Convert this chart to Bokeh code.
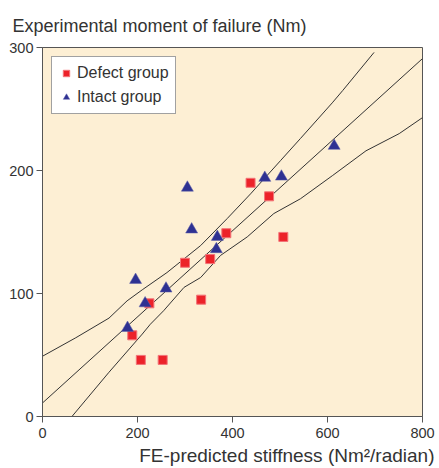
from bokeh.plotting import figure
from bokeh.models import Range1d, Legend, LegendItem, FixedTicker, Title
from bokeh.embed import file_html
from bokeh.resources import INLINE

# ---- data ----
defect_x = [189, 207, 253, 225, 300, 334, 353, 387, 438, 477, 507]
defect_y = [66, 46, 46, 92, 125, 95, 128, 149, 190, 179, 146]

intact_x = [179, 196, 216, 260, 305, 314, 366, 368, 468, 503, 614]
intact_y = [72, 111, 92, 104, 186, 152, 136, 146, 194, 195, 220]

fit_x = [0, 800]
fit_y = [11, 291]

upper_x = [0, 70, 140, 178, 210, 262, 333, 389, 438, 501, 543, 610, 632, 698]
upper_y = [49, 64, 80, 94, 103, 117, 139, 161, 181, 208, 226, 255, 265, 296]

lower_x = [62, 140, 210, 227, 255, 298, 333, 375, 431, 487, 543, 611, 681, 751, 800]
lower_y = [0, 36, 67, 75, 86, 105, 113, 131, 146, 165, 177, 196, 216, 230, 243]

x_ticks = [0, 200, 400, 600, 800]
y_ticks = [0, 100, 200, 300]

FONT = "Liberation Sans"
TXT = "#333333"

p = figure(width=439, height=468, output_backend="svg", toolbar_location=None,
           x_range=Range1d(0, 800), y_range=Range1d(0, 300),
           min_border_left=42, min_border_right=17, min_border_top=47, min_border_bottom=52)

p.background_fill_color = "#FDEFD4"
p.border_fill_color = "white"
p.outline_line_color = "#555555"
p.outline_line_width = 1
p.grid.visible = False

for ax in (p.xaxis, p.yaxis):
    ax.axis_line_color = "#555555"
    ax.major_tick_line_color = "#555555"
    ax.minor_tick_line_color = None
    ax.major_tick_in = 0
    ax.major_tick_out = 6
    ax.major_label_text_font = FONT
    ax.major_label_text_font_size = "14.5px"
    ax.major_label_text_color = TXT
p.xaxis.ticker = FixedTicker(ticks=x_ticks)
p.yaxis.ticker = FixedTicker(ticks=y_ticks)
p.xaxis.major_label_standoff = 5
p.yaxis.major_label_standoff = 3

line_color = "#333333"
p.line(upper_x, upper_y, line_color=line_color, line_width=1)
p.line(fit_x, fit_y, line_color=line_color, line_width=1)
p.line(lower_x, lower_y, line_color=line_color, line_width=1)

r_def = p.scatter(defect_x, defect_y, marker="square", size=9,
                  fill_color="#EC2229", line_color="#F37378", line_width=1)
r_int = p.scatter(intact_x, intact_y, marker="triangle", size=12,
                  fill_color="#2E3192", line_color="#5A5DAA", line_width=0.5)

legend = Legend(items=[LegendItem(label="Defect group", renderers=[r_def]),
                       LegendItem(label="Intact group", renderers=[r_int])],
                location="top_left")
legend.margin = 9
legend.padding = 6
legend.spacing = 4
legend.glyph_width = 16
legend.glyph_height = 20
legend.label_height = 20
legend.label_standoff = 3
legend.label_text_font = FONT
legend.label_text_font_size = "16px"
legend.label_text_color = TXT
legend.border_line_color = "#444444"
legend.border_line_width = 1
legend.background_fill_color = "white"
legend.background_fill_alpha = 1
p.add_layout(legend)

top_title = Title(text="Experimental moment of failure (Nm)", align="left", offset=-30,
                  standoff=24, text_font=FONT, text_font_size="18px",
                  text_color=TXT, text_font_style="normal")
p.add_layout(top_title, "above")

x_title = Title(text="FE-predicted stiffness (Nm²/radian)", align="right", offset=-12,
                standoff=5, text_font=FONT, text_font_size="19px", text_line_height=0.9,
                text_color=TXT, text_font_style="normal")
p.add_layout(x_title, "below")

open("out.html", "w").write(file_html(p, INLINE))
